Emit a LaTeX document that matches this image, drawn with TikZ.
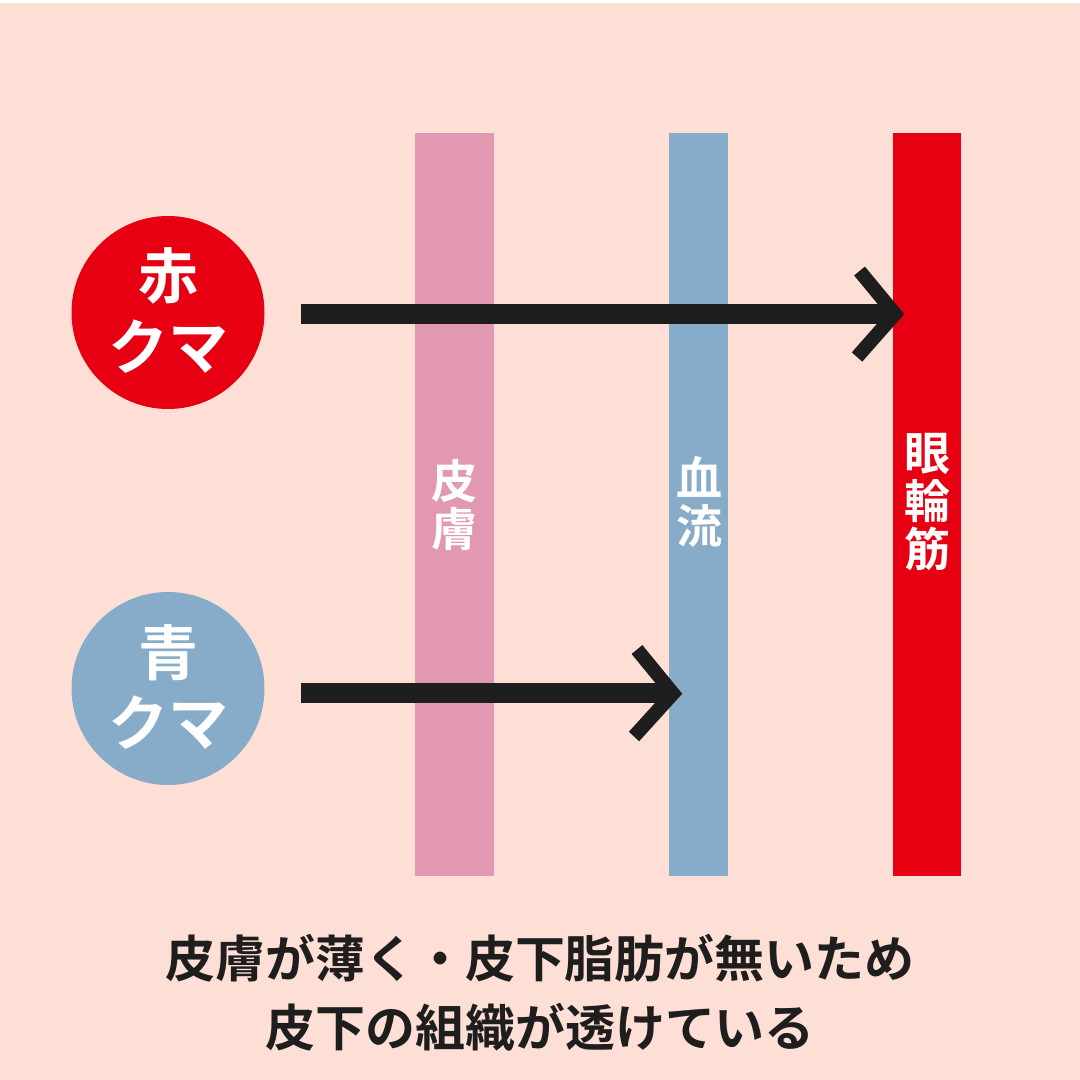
\documentclass[tikz,border=0pt]{standalone}
\usepackage{fontspec}
\newfontfamily\jp{Noto Sans CJK JP Bold}
\usetikzlibrary{calc}
\definecolor{bg}{HTML}{FEDFD6}
\definecolor{skinc}{HTML}{E198B0}
\definecolor{bluec}{HTML}{87ACC9}
\definecolor{redc}{HTML}{E60012}
\definecolor{darkc}{HTML}{1E1E1E}
\tikzset{
  bar/.style={draw=none, inner sep=0pt, outer sep=0pt, rectangle, minimum height=743pt},
  disc/.style={circle, draw=none, inner sep=0pt, minimum size=193pt},
  ctext/.style={text=white, inner sep=0pt, text height=45.6pt, text depth=0pt, font=\jp\fontsize{60}{71}\selectfont},
  vlabel/.style={text=white, inner sep=0pt, align=center, font=\jp\fontsize{46}{48}\selectfont},
  btext/.style={text=darkc, inner sep=0pt, text height=38pt, text depth=0pt, font=\jp\fontsize{50}{60}\selectfont},
  shaft/.style={draw=darkc, line width=20pt, line cap=butt},
  chev/.style={draw=darkc, line width=14pt, line cap=butt, line join=miter}
}
\begin{document}
\begin{tikzpicture}[x=1pt,y=-1pt]
\useasboundingbox (0,0) rectangle (1080,1080);
\fill[bg] (0,0) rectangle (1080,1080);
\fill[white] (0,0) rectangle (1080,3);
% bars
\node[bar, fill=skinc, minimum width=79pt] (skin) at (454.5,504.5) {};
\node[bar, fill=bluec, minimum width=59pt] (blood) at (698.5,504.5) {};
\node[bar, fill=redc, minimum width=68pt] (muscle) at (927,504.5) {};
\node[vlabel] (skinlbl) at (454.5,505) {皮\\膚};
\node[vlabel] (bloodlbl) at (699,502) {血\\流};
\node[vlabel] (musclelbl) at (927,502) {眼\\輪\\筋};
% circles
\node[disc, fill=redc] (red) at (168,312.5) {};
\node[ctext] (red1) at (168,276) {赤};
\node[ctext] (red2) at (168,347) {クマ};
\node[disc, fill=bluec] (blue) at (168,688.5) {};
\node[ctext] (blue1) at (168,653) {青};
\node[ctext] (blue2) at (168,723) {クマ};
% arrows
\coordinate (a1s) at (301,313.5);
\coordinate (a1v) at (895,314);
\draw[shaft] (a1s) -- ($(a1v)+(-6,-0.5)$);
\draw[chev] ($(a1v)+(-35.5,-43)$) -- (a1v) -- ($(a1v)+(-38,43)$);
\coordinate (a2s) at (301,693);
\coordinate (a2v) at (673,693.5);
\draw[shaft] (a2s) -- ($(a2v)+(-6,-0.5)$);
\draw[chev] ($(a2v)+(-36,-44)$) -- (a2v) -- ($(a2v)+(-39,43)$);
% caption
\node[btext] (cap1) at (540,958) {皮膚が薄く・皮下脂肪が無いため};
\node[btext] (cap2) at (540,1027) {皮下の組織が透けている};
\end{tikzpicture}
\end{document}
